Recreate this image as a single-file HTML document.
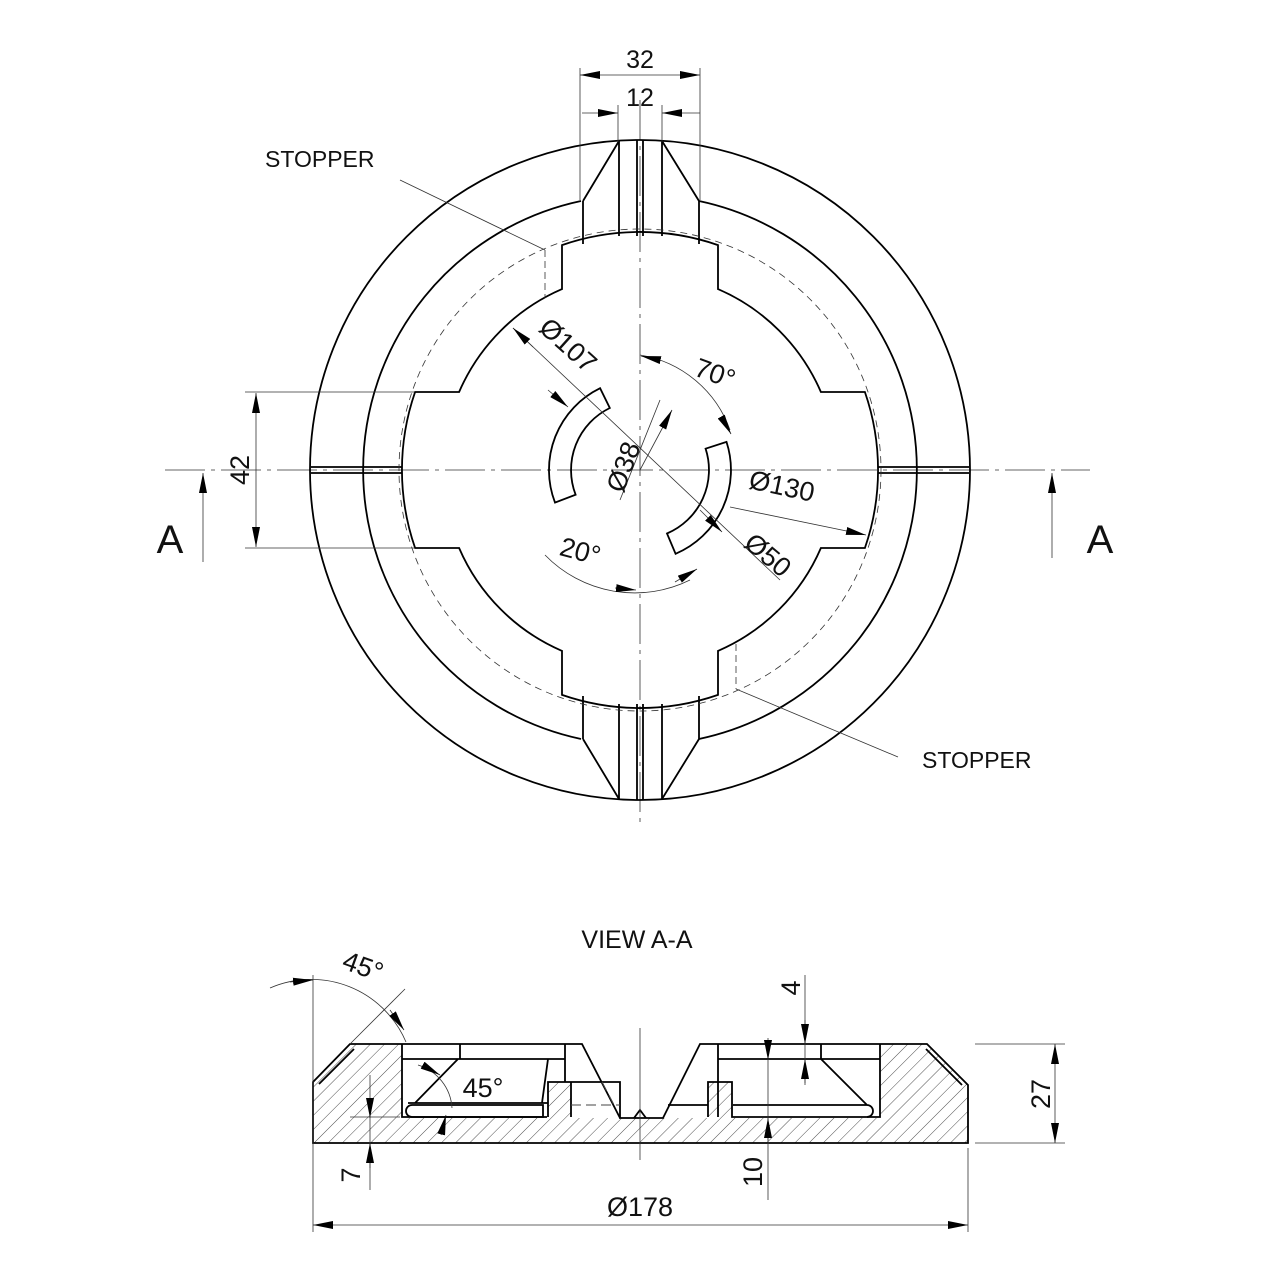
<!DOCTYPE html>
<html><head><meta charset="utf-8"><style>
html,body{margin:0;padding:0;background:#fff;}
svg{display:block;}
text{font-family:"Liberation Sans",sans-serif;fill:#111;}
</style></head><body>
<svg width="1280" height="1280" viewBox="0 0 1280 1280" xmlns="http://www.w3.org/2000/svg">
<defs>
<marker id="ar" viewBox="0 0 20 8" refX="20" refY="4" markerWidth="20" markerHeight="8" markerUnits="userSpaceOnUse" orient="auto-start-reverse"><path d="M0,0 L20,4 L0,8 Z" fill="#000"/></marker>
<pattern id="h" width="10" height="10" patternUnits="userSpaceOnUse" patternTransform="rotate(45)"><line x1="0" y1="0" x2="0" y2="10" stroke="#222" stroke-width="0.8"/></pattern>
</defs>

<g stroke="#333" stroke-width="0.8" fill="none">
<line x1="165" y1="470" x2="1090" y2="470" stroke-dasharray="40,6,4,6"/>
<line x1="640" y1="100" x2="640" y2="822" stroke-dasharray="40,6,4,6"/>
</g>

<g stroke="#000" stroke-width="1.8" fill="none">
<circle cx="640" cy="470" r="330"/>
<path d="M699,201 A275 275 0 0 1 699,739"/>
<path d="M581,739 A275 275 0 0 1 581,201"/>
<path d="M718,245.1 L718,289.1 A197 197 0 0 1 820.9,392 L864.9,392 A238 238 0 0 1 864.9,548 L820.9,548 A197 197 0 0 1 718,650.9 L718,694.9 A238 238 0 0 1 562,694.9 L562,650.9 A197 197 0 0 1 459.1,548 L415.1,548 A238 238 0 0 1 415.1,392 L459.1,392 A197 197 0 0 1 562,289.1 L562,245.1 A238 238 0 0 1 718,245.1 Z"/>
<path d="M583,201 L583,244 M699,201 L699,244 M583,201 L619,141 M699,201 L662,141 M619,141 L619,236 M662,141 L662,236 M637,140 L637,236 M643,140 L643,236"/>
<path d="M583,739 L583,696 M699,739 L699,696 M583,739 L619,799 M699,739 L662,799 M619,799 L619,704 M662,799 L662,704 M637,800 L637,704 M643,800 L643,704"/>
<path d="M311,467 L402,467 M311,473 L402,473 M878,467 L969,467 M878,473 L969,473"/>
<path d="M555,502.6 A91 91 0 0 1 600.1,388.2 L609.8,408 A69 69 0 0 0 575.6,494.7 Z"/>
<path d="M726.5,441.9 A91 91 0 0 1 675.6,553.8 L667,533.5 A69 69 0 0 0 705.6,448.7 Z"/>
</g>
<g stroke="#333" stroke-width="0.8" fill="none">
<circle cx="640" cy="470" r="241" stroke-dasharray="7,5"/>
<line x1="545" y1="250" x2="545" y2="298" stroke-dasharray="7,4"/>
<line x1="736" y1="644" x2="736" y2="689" stroke-dasharray="7,4"/>
<line x1="400" y1="180" x2="545" y2="250"/>
<line x1="736" y1="689" x2="898" y2="757"/>
<line x1="580" y1="68" x2="580" y2="200"/>
<line x1="700" y1="68" x2="700" y2="200"/>
<line x1="618" y1="105" x2="618" y2="142"/>
<line x1="662" y1="105" x2="662" y2="142"/>
<line x1="580" y1="75" x2="700" y2="75" marker-start="url(#ar)" marker-end="url(#ar)"/>
<line x1="582" y1="113" x2="618" y2="113" marker-end="url(#ar)"/>
<line x1="700" y1="113" x2="662" y2="113" marker-end="url(#ar)"/>
<line x1="245" y1="392" x2="415" y2="392"/>
<line x1="245" y1="548" x2="415" y2="548"/>
<line x1="256" y1="393" x2="256" y2="547" marker-start="url(#ar)" marker-end="url(#ar)"/>
<line x1="203" y1="562" x2="203" y2="473" marker-end="url(#ar)"/>
<line x1="1052" y1="558" x2="1052" y2="473" marker-end="url(#ar)"/>
<line x1="513" y1="328" x2="780" y2="580"/>
<line x1="513" y1="328" x2="533" y2="347" marker-start="url(#ar)"/>
<line x1="548" y1="390" x2="568" y2="407" marker-end="url(#ar)"/>
<line x1="700" y1="510" x2="722" y2="532" marker-end="url(#ar)"/>
<line x1="660" y1="400" x2="620" y2="500"/>
<line x1="640" y1="470" x2="672" y2="410" marker-end="url(#ar)"/>
<line x1="730" y1="507" x2="866" y2="535" marker-end="url(#ar)"/>
<path d="M640,355 A115 115 0 0 1 730,430"/>
<line x1="660" y1="360" x2="641" y2="356" marker-end="url(#ar)"/>
<line x1="722" y1="418" x2="731" y2="434" marker-end="url(#ar)"/>
<path d="M545,555 A125 125 0 0 0 690,580"/>
<line x1="615" y1="588" x2="636" y2="590" marker-end="url(#ar)"/>
<line x1="675" y1="582" x2="697" y2="569" marker-end="url(#ar)"/>
</g>
<g font-size="23">
<text x="265" y="167">STOPPER</text>
<text x="922" y="768">STOPPER</text>
<text x="640" y="68" text-anchor="middle" font-size="25">32</text>
<text x="640" y="106" text-anchor="middle" font-size="25">12</text>
<text transform="translate(249,470) rotate(-90)" text-anchor="middle" font-size="27">42</text>
<text x="170" y="553" text-anchor="middle" font-size="40">A</text>
<text x="1100" y="553" text-anchor="middle" font-size="40">A</text>
<text transform="translate(562,352) rotate(42)" text-anchor="middle" font-size="27">Ø107</text>
<text transform="translate(712,382) rotate(20)" text-anchor="middle" font-size="27">70°</text>
<text transform="translate(632,470) rotate(-70)" text-anchor="middle" font-size="27">Ø38</text>
<text transform="translate(780,495) rotate(12)" text-anchor="middle" font-size="27">Ø130</text>
<text transform="translate(762,562) rotate(40)" text-anchor="middle" font-size="27">Ø50</text>
<text transform="translate(578,560) rotate(15)" text-anchor="middle" font-size="27">20°</text>
</g>

<text x="637" y="948" text-anchor="middle" font-size="25">VIEW A-A</text>
<g stroke="none">
<path d="M313,1082 L350,1044 L402,1044 L402,1118 L880,1118 L880,1044 L927,1044 L968,1085 L968,1143 L313,1143 Z" fill="url(#h)"/>
<rect x="548" y="1082" width="23" height="36" fill="url(#h)"/>
<rect x="708" y="1082" width="24" height="36" fill="url(#h)"/>
</g>
<g stroke="#000" stroke-width="1.8" fill="none">
<path d="M402,1044 L350,1044 L313,1082 L313,1143 L968,1143 L968,1085 L927,1044 L880,1044"/>
<path d="M402,1044 L402,1117 L547,1117"/>
<path d="M548,1117 L548,1082 L620,1082 L620,1118 L663,1118 L700,1044 L718,1044"/>
<path d="M571,1082 L571,1117"/>
<path d="M718,1044 L718,1117"/>
<path d="M708,1117 L708,1082 L732,1082 L732,1117 L880,1117 L880,1044"/>
<path d="M319,1084 L354,1049 M962,1085 L926,1049"/>
<path d="M402,1044 L582,1044 L620,1118 M565,1044 L565,1082 M402,1059 L565,1059 M460,1044 L460,1059 M458,1059 L415,1103 M548,1059 L542,1103 M408,1103 L548,1103"/>
<path d="M412,1105 L543,1105 L543,1117 L412,1117 A6 6 0 0 1 412,1105"/>
<path d="M718,1044 L880,1044 M718,1059 L880,1059 M821,1044 L821,1059 M821,1059 L867,1105 M733,1105 L867,1105 A6 6 0 0 1 867,1117 M668,1105 L708,1105"/>
<path d="M634,1118 L640,1110 L646,1118"/>
</g>
<g stroke="#444" stroke-width="1.1" fill="none" stroke-dasharray="10,5">
<path d="M602,1082 L614,1105 M571,1105 L620,1105"/>
</g>
<g stroke="#333" stroke-width="0.8" fill="none">
<line x1="640" y1="1028" x2="640" y2="1160"/>
<line x1="313" y1="975" x2="313" y2="1232"/>
<line x1="968" y1="1148" x2="968" y2="1232"/>
<line x1="313" y1="1225" x2="968" y2="1225" marker-start="url(#ar)" marker-end="url(#ar)"/>
<line x1="975" y1="1044" x2="1065" y2="1044"/>
<line x1="975" y1="1143" x2="1065" y2="1143"/>
<line x1="1055" y1="1044" x2="1055" y2="1143" marker-start="url(#ar)" marker-end="url(#ar)"/>
<path d="M270,988 A103 103 0 0 1 406,1042"/>
<line x1="350" y1="1044" x2="405" y2="989"/>
<line x1="290" y1="982" x2="313" y2="980" marker-end="url(#ar)"/>
<line x1="390" y1="1010" x2="404" y2="1030" marker-end="url(#ar)"/>
<line x1="370" y1="1075" x2="370" y2="1190"/>
<line x1="370" y1="1098" x2="370" y2="1118" marker-end="url(#ar)"/>
<line x1="370" y1="1168" x2="370" y2="1143" marker-end="url(#ar)"/>
<line x1="350" y1="1117" x2="400" y2="1117"/>
<path d="M418,1065 A48 48 0 0 1 452,1108"/>
<line x1="424" y1="1066" x2="440" y2="1075" marker-end="url(#ar)"/>
<line x1="441" y1="1135" x2="446" y2="1115" marker-end="url(#ar)"/>
<line x1="768" y1="1038" x2="768" y2="1200"/>
<line x1="768" y1="1040" x2="768" y2="1060" marker-end="url(#ar)"/>
<line x1="768" y1="1140" x2="768" y2="1118" marker-end="url(#ar)"/>
<line x1="805" y1="975" x2="805" y2="1085"/>
<line x1="805" y1="1020" x2="805" y2="1044" marker-end="url(#ar)"/>
<line x1="805" y1="1083" x2="805" y2="1059" marker-end="url(#ar)"/>
</g>
<g>
<text x="640" y="1216" text-anchor="middle" font-size="27">Ø178</text>
<text transform="translate(1050,1094) rotate(-90)" text-anchor="middle" font-size="27">27</text>
<text transform="translate(360,975) rotate(20)" text-anchor="middle" font-size="27">45°</text>
<text x="483" y="1097" text-anchor="middle" font-size="27">45°</text>
<text transform="translate(360,1175) rotate(-90)" text-anchor="middle" font-size="27">7</text>
<text transform="translate(762,1172) rotate(-90)" text-anchor="middle" font-size="27">10</text>
<text transform="translate(800,988) rotate(-90)" text-anchor="middle" font-size="27">4</text>
</g>
</svg>
</body></html>
